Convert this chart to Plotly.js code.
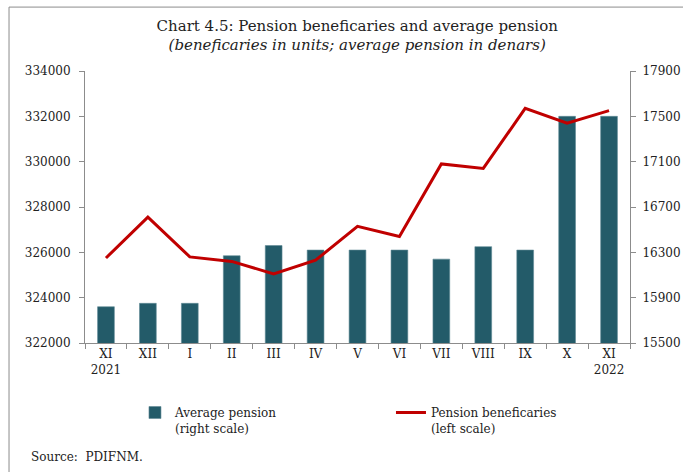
<!DOCTYPE html>
<html>
<head>
<meta charset="utf-8">
<script src="https://cdn.plot.ly/plotly-3.0.1.min.js"></script>
<style>
  html, body { margin: 0; padding: 0; background: #fff; }
  #chart { width: 683px; height: 472px; }
</style>
</head>
<body>
<div id="chart"></div>
<script>
// months, Nov 2021 - Nov 2022
const months = ['XI<br>2021', 'XII', 'I', 'II', 'III', 'IV', 'V', 'VI', 'VII', 'VIII', 'IX', 'X', 'XI<br>2022'];

// average pension, denars (right scale)
const avgPension = [15820, 15850, 15850, 16270, 16360, 16320, 16320, 16320, 16240, 16350, 16320, 17500, 17500];

// pension beneficiaries, units (left scale)
const beneficiaries = [325750, 327550, 325800, 325600, 325050, 325650, 327150, 326700, 329900, 329700, 332350, 331700, 332250];

const leftTicks = [322000, 324000, 326000, 328000, 330000, 332000, 334000];
const rightTicks = [15500, 15900, 16300, 16700, 17100, 17500, 17900];

const FONT = 'DejaVu Serif, serif';
const AXIS_GREY = '#8c8c8c';

const data = [
  {
    x: months, y: avgPension, type: 'bar', name: 'Average pension<br>(right scale)',
    yaxis: 'y',
    marker: { color: '#235b69', line: { color: '#5f8a96', width: 0.6 } },
    hoverinfo: 'none'
  },
  {
    x: months, y: beneficiaries, type: 'scatter', mode: 'lines', name: 'Pension beneficaries<br>(left scale)',
    yaxis: 'y2',
    line: { color: '#c00000', width: 3 },
    hoverinfo: 'none'
  }
];

const layout = {
  width: 683,
  height: 472,
  margin: { l: 85, r: 53, t: 71, b: 129 },
  paper_bgcolor: '#fff',
  plot_bgcolor: '#fff',
  font: { family: FONT, size: 12, color: '#222' },
  showlegend: true,
  bargap: 0.6,
  title: {
    text: 'Chart 4.5: Pension beneficaries and average pension<br><i>(beneficaries in units; average pension in denars)</i>',
    font: { family: FONT, size: 15, color: '#222' },
    x: 0.523, xanchor: 'center',
    y: 0.935, yanchor: 'top', yref: 'container'
  },
  xaxis: {
    type: 'category',
    showline: true, linecolor: AXIS_GREY, linewidth: 1,
    ticks: 'outside', tickson: 'boundaries', ticklen: 5, tickcolor: AXIS_GREY,
    showgrid: false, zeroline: false,
    tickfont: { size: 12 }
  },
  // bars: right scale (main axis so the line overlay is drawn above)
  yaxis: {
    side: 'right',
    range: [15500, 17900],
    tickvals: rightTicks,
    ticktext: rightTicks.map(String),
    showline: true, linecolor: AXIS_GREY, linewidth: 1,
    ticks: 'outside', ticklen: 5, tickcolor: AXIS_GREY,
    ticklabelstandoff: 4,
    showgrid: false, zeroline: false,
    tickfont: { size: 12 }
  },
  // line: left scale
  yaxis2: {
    overlaying: 'y',
    side: 'left',
    range: [322000, 334000],
    tickvals: leftTicks,
    ticktext: leftTicks.map(String),
    showline: true, linecolor: AXIS_GREY, linewidth: 1,
    ticks: 'outside', ticklen: 5, tickcolor: AXIS_GREY,
    ticklabelstandoff: 6,
    showgrid: false, zeroline: false,
    tickfont: { size: 12 }
  },
  legend: {
    orientation: 'h',
    x: 0.0917, xanchor: 'left',
    y: -0.203, yanchor: 'top',
    valign: 'top',
    entrywidth: 211,
    itemwidth: 30,
    font: { family: FONT, size: 12, color: '#222' },
    bgcolor: 'rgba(0,0,0,0)'
  },
  annotations: [
    {
      text: 'Source:  PDIFNM.', xref: 'paper', yref: 'paper',
      x: -0.102, y: -0.418, xanchor: 'left', yanchor: 'middle',
      showarrow: false, font: { family: FONT, size: 12, color: '#222' }
    }
  ],
  shapes: [
    // outer frame: top and left edges
    { type: 'line', xref: 'paper', yref: 'paper', x0: -0.1394, x1: 1.2, y0: 1.235, y1: 1.235, line: { color: '#8c8c8c', width: 1 } },
    { type: 'line', xref: 'paper', yref: 'paper', x0: -0.1394, x1: -0.1394, y0: 1.235, y1: -0.5, line: { color: '#8c8c8c', width: 1 } }
  ]
};

Plotly.newPlot('chart', data, layout, { displayModeBar: false, staticPlot: true });
</script>
</body>
</html>
